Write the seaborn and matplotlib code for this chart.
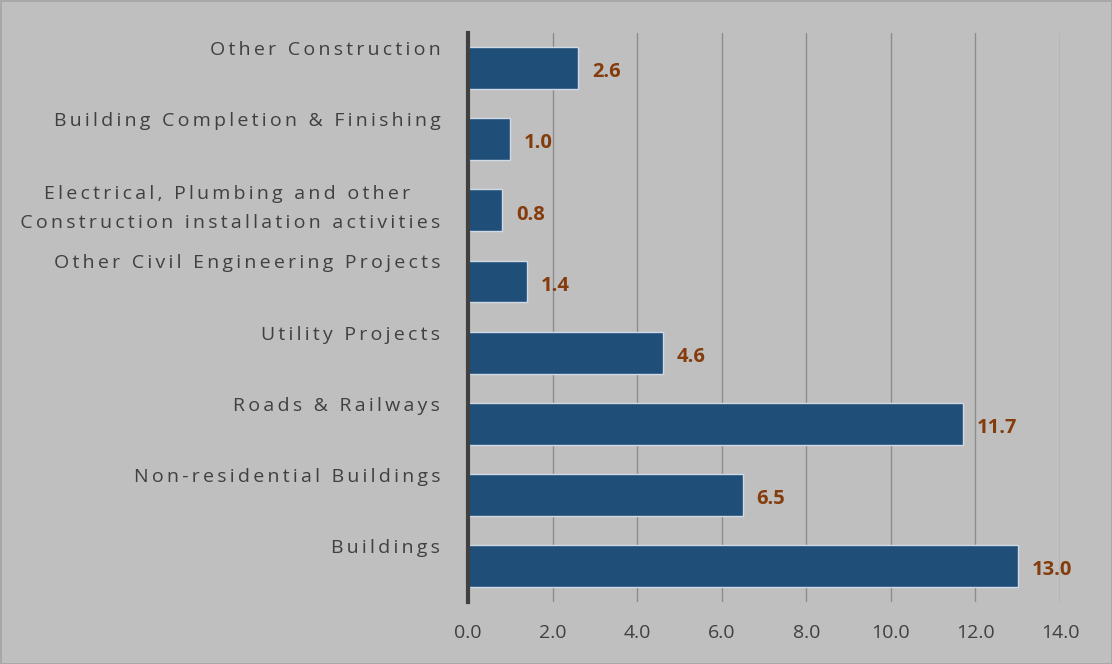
import matplotlib
matplotlib.use("Agg")
import matplotlib.pyplot as plt
import matplotlib.transforms as mtransforms
import seaborn as sns
import pandas as pd

categories = [
    "Other Construction",
    "Building Completion & Finishing",
    "Electrical, Plumbing and other\nConstruction installation activities",
    "Other Civil Engineering Projects",
    "Utility Projects",
    "Roads & Railways",
    "Non-residential Buildings",
    "Buildings",
]
values = [2.6, 1.0, 0.8, 1.4, 4.6, 11.7, 6.5, 13.0]
xticks = [0, 2, 4, 6, 8, 10, 12, 14]

df = pd.DataFrame({"category": categories, "value": values})

sns.set_style("white")
plt.rcParams["font.family"] = ["Open Sans", "DejaVu Sans"]

bg = "#bfbfbf"
fig = plt.figure(figsize=(11.12, 6.64), dpi=100, facecolor=bg)
fig.patch.set_edgecolor("#a8a8a8")
fig.patch.set_linewidth(2)
ax = fig.add_axes([0.4209, 0.094, 0.5323, 0.857])
ax.set_facecolor(bg)

sns.barplot(data=df, x="value", y="category", orient="h", color="#1f4e79",
            saturation=1, width=0.59, edgecolor="#d0dae6", linewidth=1,
            ax=ax, zorder=3)

ax.set_xlim(0, 14)
ax.set_xticks(xticks)
ax.set_xticklabels([f"{t:.1f}" for t in xticks], fontsize=14, color="#404040")
ax.grid(axis="x", color="#8c8c8c", linewidth=1, zorder=0)
ax.set_axisbelow(True)
ax.tick_params(axis="both", length=0)
ax.tick_params(axis="x", pad=16)
ax.set_xlabel("")
ax.set_ylabel("")

for s in ["top", "right", "bottom"]:
    ax.spines[s].set_visible(False)
ax.spines["left"].set_color("#404040")
ax.spines["left"].set_linewidth(3)
ax.spines["left"].set_zorder(5)

# letter-spaced category labels, nudged above the bar centre like the original
spaced = ["\u2009".join(c) for c in categories]
ax.set_yticks(range(len(categories)))
ax.set_yticklabels(spaced, fontsize=14, color="#404040", multialignment="center",
                   linespacing=1.75)
ax.tick_params(axis="y", pad=20)
for lab, c in zip(ax.get_yticklabels(), categories):
    dy = 0.09 if "\n" in c else 0.2
    lab.set_transform(lab.get_transform() + mtransforms.ScaledTranslation(0, dy, fig.dpi_scale_trans))

for i, v in enumerate(values):
    ax.annotate(f"{v:.1f}", (v, i), xytext=(10, -3), textcoords="offset points",
                ha="left", va="center", fontsize=14.5, fontweight="bold",
                color="#843c0c", zorder=6)

fig.savefig("out.png", dpi=100, facecolor=bg, edgecolor=fig.patch.get_edgecolor())
